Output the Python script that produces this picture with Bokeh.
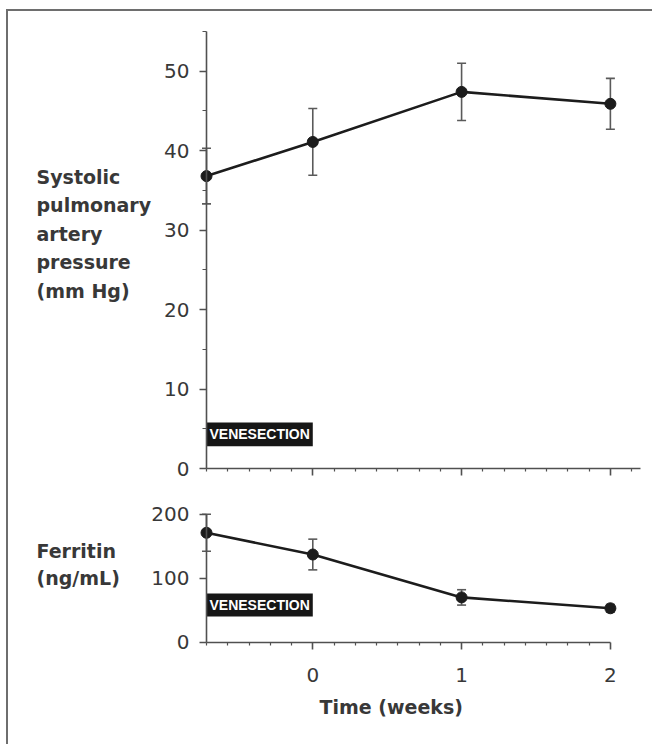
from bokeh.plotting import figure
from bokeh.layouts import column
from bokeh.models import (Range1d, FixedTicker, Whisker, TeeHead, ColumnDataSource,
                          CustomLabelingPolicy)
from bokeh.core.properties import value
from bokeh.embed import file_html
from bokeh.resources import INLINE

# ---- data ----
time_weeks = [-5/7, 0, 1, 2]
pressure = [36.8, 41.1, 47.4, 45.9]
pressure_err = [3.5, 4.2, 3.6, 3.2]
ferritin = [171, 137, 70, 53]
ferritin_err = [29, 24, 12, 6]
venesection_start = -5/7
venesection_end = 0
pressure_ticks = [0, 10, 20, 30, 40, 50]
pressure_minor = [5, 15, 25, 35, 45, 55]
ferritin_ticks = [0, 100, 200]
week_ticks = [0, 1, 2]
pressure_title = ["Systolic", "pulmonary", "artery", "pressure", "(mm Hg)"]
ferritin_title = ["Ferritin", "(ng/mL)"]
x_title = "Time (weeks)"
box_text = "VENESECTION"

INK = "#1c1c1c"
AXIS = "#505050"
TEXT = "#383838"
ERR = "#5a5a5a"
TICK_FONT = "DejaVu Sans"
TITLE_FONT = "DejaVu Sans"

# ---- geometry ----
FRAME_W = 644
AXIS_PX = 198            # y axis distance from left edge of the frame
PX_PER_WEEK = 148.8
x_start = venesection_start - AXIS_PX / PX_PER_WEEK
x_end = x_start + FRAME_W / PX_PER_WEEK
title_x = x_start + 28 / PX_PER_WEEK

hide_labels = CustomLabelingPolicy(code="""
try { for (const i of Array.from(indices)) { indices.unset(i) } } catch (e) {}
return indices
""")


def make_fig(frame_h, y_start, y_end):
    p = figure(frame_width=FRAME_W, frame_height=frame_h,
               x_range=Range1d(x_start, x_end), y_range=Range1d(y_start, y_end),
               min_border_left=0, min_border_right=0, min_border_top=0, min_border_bottom=0,
               output_backend="svg", toolbar_location=None)
    p.grid.visible = False
    p.outline_line_color = None
    p.background_fill_color = "white"
    p.border_fill_color = "white"
    return p


def style_axes(p, xbound, xminor, show_xlabels, yticks, yminor, ybound):
    for ax in (p.xaxis[0], p.yaxis[0]):
        ax.axis_line_color = AXIS
        ax.axis_line_width = 1.6
        ax.major_tick_line_color = AXIS
        ax.major_tick_line_width = 1.6
        ax.minor_tick_line_color = AXIS
        ax.minor_tick_line_width = 1.2
        ax.major_tick_in = 0
        ax.minor_tick_in = 0
        ax.major_label_text_font = TICK_FONT
        ax.major_label_text_font_size = "20px"
        ax.major_label_text_color = TEXT
    xa, ya = p.xaxis[0], p.yaxis[0]
    xa.fixed_location = 0
    xa.bounds = (venesection_start, xbound)
    xa.ticker = FixedTicker(ticks=week_ticks, minor_ticks=xminor)
    xa.major_tick_out = 7
    xa.minor_tick_out = 3
    ya.fixed_location = venesection_start
    ya.bounds = ybound
    ya.ticker = FixedTicker(ticks=yticks, minor_ticks=yminor)
    ya.major_tick_out = 7
    ya.minor_tick_out = 4
    ya.major_label_standoff = 10
    if show_xlabels:
        xa.major_label_standoff = 19
    else:
        xa.major_label_policy = hide_labels
        xa.major_label_text_font_size = "0px"


def add_series(p, y, err, box_bottom, box_top):
    p.quad(left=[venesection_start], right=[venesection_end], bottom=[box_bottom], top=[box_top],
           fill_color="#161616", line_color=None)
    p.text(x=[(venesection_start + venesection_end) / 2], y=[(box_bottom + box_top) / 2], text=[box_text],
           text_color="white", text_font=value("Liberation Sans"), text_font_style="bold",
           text_font_size="14px", text_align="center", text_baseline="middle")
    src = ColumnDataSource(dict(x=time_weeks, y=y,
                                upper=[a + b for a, b in zip(y, err)],
                                lower=[a - b for a, b in zip(y, err)]))
    p.add_layout(Whisker(source=src, base="x", upper="upper", lower="lower",
                         line_color=ERR, line_width=1.6,
                         upper_head=TeeHead(size=9, line_color=ERR, line_width=1.6),
                         lower_head=TeeHead(size=9, line_color=ERR, line_width=1.6)))
    p.line("x", "y", source=src, line_color=INK, line_width=2.6)
    p.scatter("x", "y", source=src, size=11, fill_color=INK, line_color=INK)


def add_title_lines(p, lines, y0, step):
    p.text(x=[title_x] * len(lines), y=[y0 - i * step for i in range(len(lines))], text=lines,
           text_font=value(TITLE_FONT), text_font_style="bold", text_font_size="19px",
           text_color=TEXT, text_align="left", text_baseline="alphabetic")


# ---- top panel: 7.945 px per mm Hg, zero 23 px above the frame bottom ----
TOP_H = 480
top_scale = 437 / 55
top_y0 = -23 / top_scale
p1 = make_fig(TOP_H, top_y0, top_y0 + TOP_H / top_scale)
style_axes(p1, 2.2, [k / 7 for k in range(-5, 16) if k % 7], False,
           pressure_ticks, pressure_minor, (0, 55))
add_series(p1, pressure, pressure_err, 2.8, 5.8)
add_title_lines(p1, pressure_title, 36.7, 3.58)

# ---- bottom panel: 0.64 px per ng/mL, zero 102 px above the frame bottom ----
BOT_H = 253
bot_scale = 0.64
bot_y0 = -102.3 / bot_scale
p2 = make_fig(BOT_H, bot_y0, bot_y0 + BOT_H / bot_scale)
style_axes(p2, 2, [k / 7 for k in range(-5, 15) if k % 7], True,
           ferritin_ticks, [], (0, 200))
add_series(p2, ferritin, ferritin_err, 40, 76)
add_title_lines(p2, ferritin_title, 143, 42.5)
p2.text(x=[0.527], y=[-101], text=[x_title], text_font=value(TITLE_FONT), text_font_style="bold",
        text_font_size="19px", text_color=TEXT, text_align="center", text_baseline="alphabetic")

layout = column(p1, p2, spacing=0, margin=(9, 0, 0, 6),
                styles={"border-top": "2px solid #6e6e6e", "border-left": "2px solid #6e6e6e"})

open("out.html", "w").write(file_html(layout, INLINE))
